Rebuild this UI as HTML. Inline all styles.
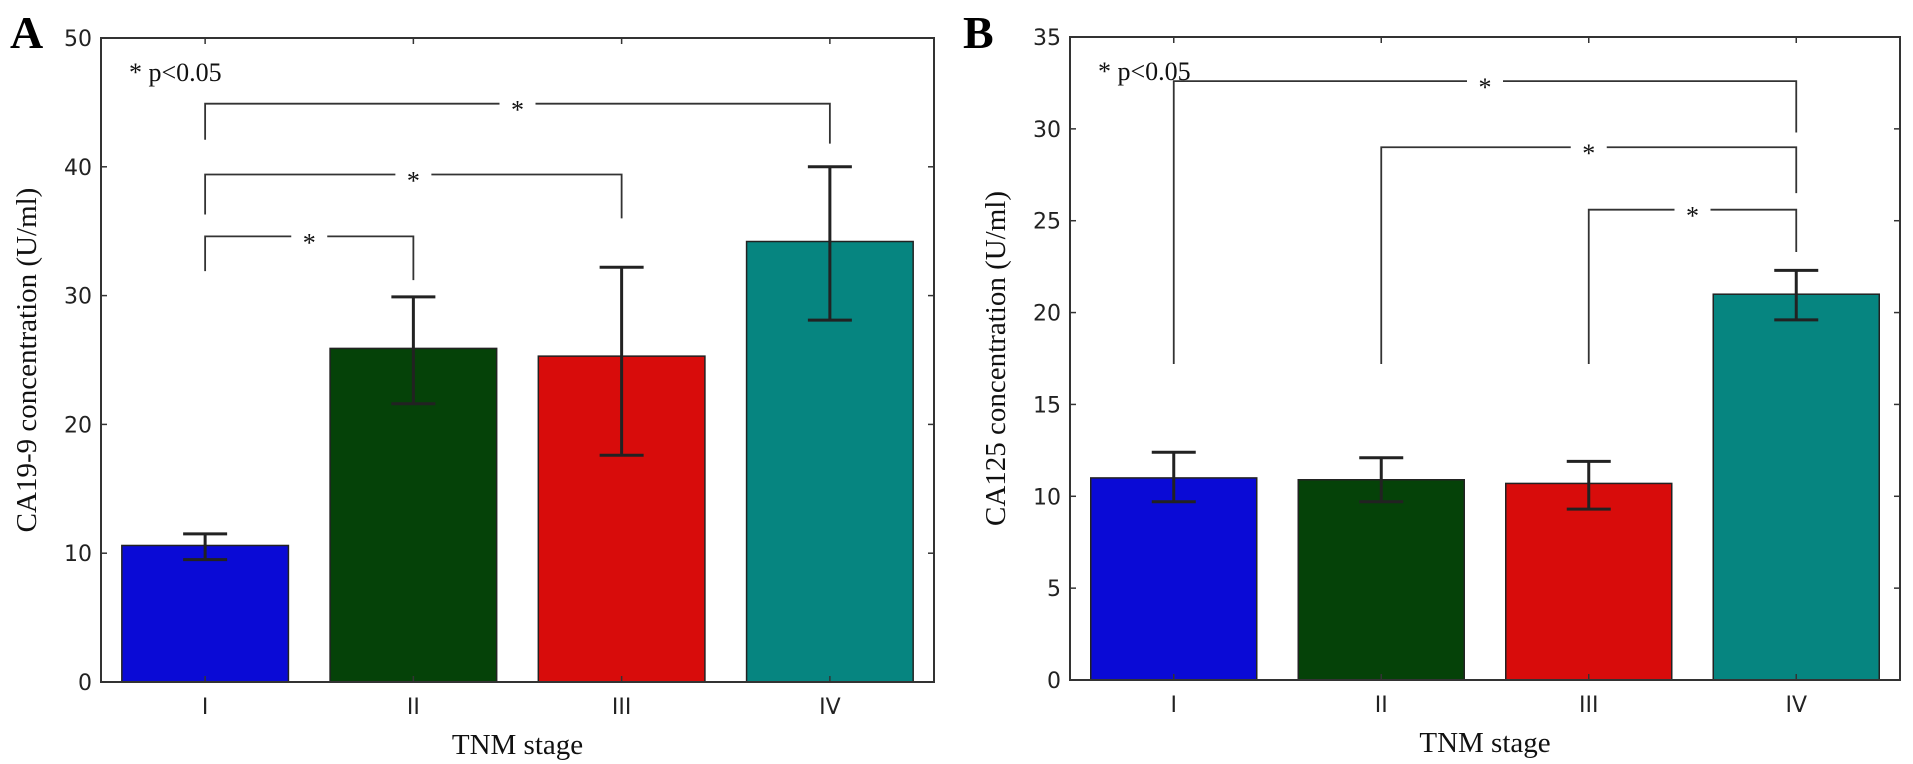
<!DOCTYPE html>
<html><head><meta charset="utf-8"><style>
body{margin:0;background:#fff;width:1913px;height:764px;overflow:hidden}
svg{display:block}
.tick{font-family:"DejaVu Sans","Liberation Sans",sans-serif;font-size:22px;fill:#222}
.lab{font-family:"Liberation Serif",serif;font-size:29px;fill:#111}
.pan{font-family:"Liberation Serif",serif;font-size:46px;font-weight:bold;fill:#000}
.ann{font-family:"Liberation Serif",serif;font-size:26px;fill:#111}
</style></head><body>
<svg id="chart" width="1913" height="764"></svg>
<script>
const categories = ["I","II","III","IV"];
const colors = ["#0a0ad6","#054208","#d80c0b","#068580"];
const valuesA = [10.6, 25.9, 25.3, 34.2];
const errLowA = [9.5, 21.6, 17.6, 28.1];
const errHighA = [11.5, 29.9, 32.2, 40.0];
const ticksA = [0,10,20,30,40,50];
const valuesB = [11.0, 10.9, 10.7, 21.0];
const errLowB = [9.7, 9.7, 9.3, 19.6];
const errHighB = [12.4, 12.1, 11.9, 22.3];
const ticksB = [0,5,10,15,20,25,30,35];
// brackets: [from, to, topY, leftLegEnd, rightLegEnd]
const bracketsA = [[0,3,44.9,42.1,41.8],[0,2,39.4,36.3,36.0],[0,1,34.6,31.9,31.2]];
const bracketsB = [[0,3,32.6,17.2,29.8],[1,3,29.0,17.2,26.5],[2,3,25.6,17.2,23.3]];

const NS="http://www.w3.org/2000/svg";
const svg=document.getElementById('chart');
function mk(tag,attrs,parent){const e=document.createElementNS(NS,tag);for(const k in attrs)e.setAttribute(k,attrs[k]);(parent||svg).appendChild(e);return e;}

function panel(p){
  const g=mk('g',{});
  
  
  const {x0,x1,y0,y1,ymax}=p;
  const sx=v=>x0+(x1-x0)*v/4;
  const sy=v=>y0-(y0-y1)*v/ymax;
  p.values.forEach((v,i)=>{
    const b=mk('rect',{x:sx(i+0.1),y:sy(v),width:sx(0.8)-x0,height:sy(0)-sy(v),fill:colors[i],stroke:'#222','stroke-width':1.5},g);
    
    
  });
  p.values.forEach((v,i)=>{
    const cx=sx(i+0.5);
    const e=mk('g',{stroke:'#222','stroke-width':3},g);
    
    
    mk('line',{x1:cx,x2:cx,y1:sy(p.lo[i]),y2:sy(p.hi[i])},e);
    mk('line',{x1:cx-22,x2:cx+22,y1:sy(p.lo[i]),y2:sy(p.lo[i])},e);
    mk('line',{x1:cx-22,x2:cx+22,y1:sy(p.hi[i]),y2:sy(p.hi[i])},e);
  });
  const f=mk('rect',{x:x0,y:y1,width:x1-x0,height:y0-y1,fill:'none',stroke:'#333','stroke-width':2},g);
  
  
  p.ticks.forEach(t=>{
    mk('line',{x1:x0,x2:x0+6,y1:sy(t),y2:sy(t),stroke:'#333','stroke-width':1.5},g);
    mk('line',{x1:x1,x2:x1-6,y1:sy(t),y2:sy(t),stroke:'#333','stroke-width':1.5},g);
    const tx=mk('text',{x:x0-9,y:sy(t)+8,'text-anchor':'end',class:'tick'},g);
    tx.textContent=t;
    
    
  });
  categories.forEach((c,i)=>{
    const cx=sx(i+0.5);
    mk('line',{x1:cx,x2:cx,y1:y0,y2:y0-6,stroke:'#333','stroke-width':1.5},g);
    mk('line',{x1:cx,x2:cx,y1:y1,y2:y1+6,stroke:'#333','stroke-width':1.5},g);
    const tx=mk('text',{x:cx,y:y0+32,'text-anchor':'middle',class:'tick'},g);
    tx.textContent=c;
    
    
  });
  p.brackets.forEach(b=>{
    const xa=sx(b[0]+0.5), xb=sx(b[1]+0.5), yt=sy(b[2]);
    const mid=(xa+xb)/2;
    const bg=mk('g',{stroke:'#333','stroke-width':1.8,fill:'none'},g);
    
    
    mk('polyline',{points:`${xa},${sy(b[3])} ${xa},${yt} ${mid-18},${yt}`},bg);
    mk('polyline',{points:`${mid+18},${yt} ${xb},${yt} ${xb},${sy(b[4])}`},bg);
    const st=mk('text',{x:mid,y:yt+15,'text-anchor':'middle',class:'ann'},g);
    st.textContent='*';
    
    
  });
  const pv=mk('text',{x:x0+28,y:y1+43,class:'ann'},g);
  pv.textContent='* p<0.05';
  
  
  const yl=mk('text',{x:p.ylx,y:(y0+y1)/2,'text-anchor':'middle',class:'lab',transform:`rotate(-90 ${p.ylx} ${(y0+y1)/2})`},g);
  yl.textContent=p.ylabel;
  
  
  const xl=mk('text',{x:(x0+x1)/2,y:y0+72,'text-anchor':'middle',class:'lab'},g);
  xl.textContent='TNM stage';
  
  
  const pl=mk('text',{x:p.plx,y:48,class:'pan'},g);
  pl.textContent=p.id;
  
  
}
panel({id:'A',x0:101,x1:934,y0:682,y1:38,ymax:50,values:valuesA,lo:errLowA,hi:errHighA,ticks:ticksA,brackets:bracketsA,ylabel:'CA19-9 concentration (U/ml)',ylx:36,plx:10});
panel({id:'B',x0:1070,x1:1900,y0:680,y1:37,ymax:35,values:valuesB,lo:errLowB,hi:errHighB,ticks:ticksB,brackets:bracketsB,ylabel:'CA125 concentration (U/ml)',ylx:1005,plx:963});
</script>
</body></html>
